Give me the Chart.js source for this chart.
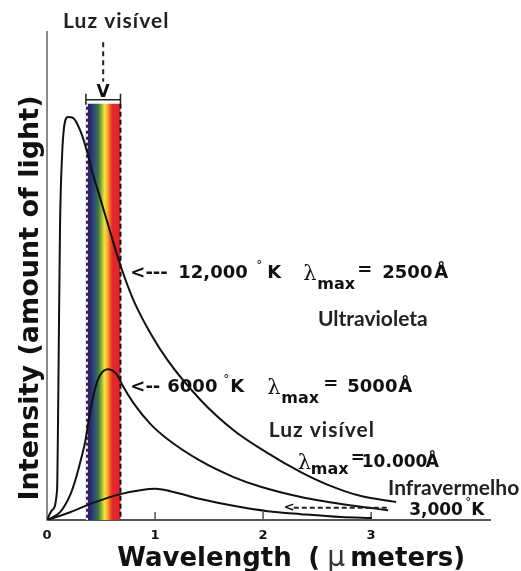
<!DOCTYPE html>
<html>
<head>
<meta charset="utf-8">
<title>Intensity vs wavelength</title>
<script src="https://cdn.jsdelivr.net/npm/chart.js@4.4.1/dist/chart.umd.min.js"></script>
<style>
  html, body { margin: 0; padding: 0; background: #fff; }
  #wrap { width: 521px; height: 571px; }
</style>
</head>
<body>
<div id="wrap"><canvas id="chart" width="521" height="571"></canvas></div>
<script>
// Curvas de emisión: longitud de onda (µm) e intensidad relativa (0-100)
const wl12000 = [0, 0.046, 0.093, 0.102, 0.111, 0.121, 0.139, 0.158, 0.195, 0.241, 0.306, 0.362, 0.427, 0.492, 0.585, 0.678, 0.799, 0.956, 1.114, 1.421, 1.727, 2.043, 2.349, 2.6, 2.906, 3.231];
const int12000 = [0, 2.0, 6.1, 19.9, 40.4, 60.9, 74.4, 80.5, 82.6, 82.4, 79.9, 76.2, 70.7, 66.0, 59.0, 52.3, 45.1, 38.3, 32.8, 24.6, 18.4, 13.7, 9.8, 7.2, 4.9, 3.7];

const wl6000 = [0, 0.121, 0.214, 0.26, 0.306, 0.353, 0.399, 0.446, 0.492, 0.566, 0.65, 0.696, 0.799, 0.956, 1.114, 1.421, 1.727, 1.978, 2.349, 2.6, 2.906, 3.157];
const int6000 = [0, 1.6, 5.1, 8.0, 11.7, 16.0, 22.1, 27.0, 29.7, 30.9, 29.7, 27.7, 24.0, 19.7, 16.6, 12.1, 8.8, 6.8, 4.7, 3.7, 2.7, 2.0];

const wl3000 = [0, 0.214, 0.427, 0.678, 0.864, 1.003, 1.142, 1.421, 1.727, 2.043, 2.349, 2.721, 3.008];
const int3000 = [0, 1.6, 3.5, 5.3, 6.1, 6.4, 5.9, 4.3, 2.9, 1.8, 1.2, 0.6, 0.4];

const xTicks = [0, 1, 2, 3];
const visibleRange = [0.36, 0.68];   // faixa de luz visível (µm)
const bandTop = 85.3;

function toPoints(xs, ys) {
  return xs.map((x, i) => ({ x: x, y: ys[i] }));
}

// Fuentes
const NUM = 'bold 18px "DejaVu Sans"';
const NUM17 = 'bold 17px "DejaVu Sans"';
const DEG = '12px "DejaVu Sans"';
const LAM = '21px "DejaVu Serif"';
const SUB = 'bold 16px "DejaVu Sans"';
const LBL = 'bold 21px Lato';

const bandColors = [
  [0, '#3b1f5f'], [0.12, '#2a2663'], [0.25, '#2d4f7d'], [0.36, '#3e7a3f'],
  [0.46, '#98b640'], [0.53, '#f2e23d'], [0.62, '#f6b42c'], [0.7, '#ef5a2a'],
  [0.78, '#e4252a'], [1, '#e2232b']
];

function drawRuns(ctx, ax, ay, runs) {
  runs.forEach(([text, font, dx, dy]) => {
    ctx.font = font;
    ctx.fillText(text, ax + dx, ay + dy);
  });
}

const decor = {
  id: 'decor',
  beforeDatasetsDraw(chart) {
    const { ctx, scales: { x, y } } = chart;
    const x0 = x.getPixelForValue(visibleRange[0]);
    const x1 = x.getPixelForValue(visibleRange[1]);
    const yb = y.getPixelForValue(0);
    const yt = y.getPixelForValue(bandTop);
    ctx.save();
    const g = ctx.createLinearGradient(x0, 0, x1, 0);
    bandColors.forEach(([o, c]) => g.addColorStop(o, c));
    ctx.fillStyle = g;
    ctx.fillRect(x0, yt, x1 - x0, yb - yt);

    // bordes punteados
    ctx.lineWidth = 2;
    ctx.setLineDash([3, 3]);
    ctx.strokeStyle = '#f4f4f4';
    ctx.beginPath(); ctx.moveTo(x0 + 1, yt); ctx.lineTo(x0 + 1, yb); ctx.stroke();
    ctx.setLineDash([5, 3]);
    ctx.strokeStyle = '#111';
    ctx.beginPath(); ctx.moveTo(x1, yt); ctx.lineTo(x1, yb); ctx.stroke();
    ctx.setLineDash([]);

    // corchete y flecha
    const yBr = y.getPixelForValue(86.1);
    ctx.lineWidth = 1.5;
    ctx.strokeStyle = '#222';
    ctx.beginPath();
    ctx.moveTo(x0, yBr); ctx.lineTo(x1, yBr);
    ctx.moveTo(x0, yBr - 6); ctx.lineTo(x0, yBr + 5);
    ctx.moveTo(x1, yBr - 6); ctx.lineTo(x1, yBr + 5);
    ctx.stroke();
    const xm = (x0 + x1) / 2;
    ctx.lineWidth = 2;
    ctx.setLineDash([5, 4]);
    ctx.beginPath();
    ctx.moveTo(xm, y.getPixelForValue(97.9));
    ctx.lineTo(xm, y.getPixelForValue(89.8));
    ctx.stroke();
    ctx.setLineDash([]);
    ctx.fillStyle = '#111';
    ctx.font = 'bold 17px "DejaVu Sans"';
    ctx.textAlign = 'center';
    ctx.textBaseline = 'alphabetic';
    ctx.fillText('V', xm, y.getPixelForValue(86.6));

    // marcas del eje x
    ctx.strokeStyle = '#555';
    ctx.lineWidth = 1.5;
    ctx.beginPath();
    xTicks.slice(1).forEach(v => {
      const px = x.getPixelForValue(v);
      ctx.moveTo(px, yb); ctx.lineTo(px, yb - 8);
    });
    ctx.stroke();
    ctx.restore();
  },
  afterDraw(chart) {
    const { ctx, chartArea, scales: { x, y } } = chart;
    ctx.save();
    ctx.fillStyle = '#111';
    ctx.textAlign = 'left';
    ctx.textBaseline = 'alphabetic';

    // 12,000 K
    drawRuns(ctx, x.getPixelForValue(0.771), y.getPixelForValue(49.6), [
      ['<---', NUM, 0, 0], ['12,000', NUM, 48, 0], ['°', DEG, 126, -9], ['K', NUM, 137, 0],
      ['λ', LAM, 173, 2], ['max', SUB, 187, 11], ['=', NUM, 227, -3], ['2500', NUM, 252, 0], ['Å', NUM, 304, 0]
    ]);
    // 6000 K
    drawRuns(ctx, x.getPixelForValue(0.771), y.getPixelForValue(26.2), [
      ['<--', NUM, 0, 0], ['6000', NUM, 37, 0], ['°', DEG, 93, -9], ['K', NUM, 100, 0],
      ['λ', LAM, 137, 2], ['max', SUB, 151, 11], ['=', NUM, 193, -3], ['5000', NUM, 217, 0], ['Å', NUM, 268, 0]
    ]);
    // 10.000 Å
    drawRuns(ctx, x.getPixelForValue(2.321), y.getPixelForValue(10.9), [
      ['λ', LAM, 0, 2], ['max', SUB, 13, 7], ['=', NUM17, 53, -4], ['10.000', NUM17, 64, 0], ['Å', NUM17, 128, 0]
    ]);
    // 3,000 K
    drawRuns(ctx, x.getPixelForValue(3.352), y.getPixelForValue(1.0), [
      ['3,000', NUM17, 0, 0], ['°', DEG, 56, -9], ['K', NUM17, 62, 0]
    ]);

    // flecha punteada de 3000 K
    const ax0 = x.getPixelForValue(2.191), ax1 = x.getPixelForValue(3.157);
    const ay = y.getPixelForValue(2.5);
    ctx.font = 'bold 13px "DejaVu Sans"';
    ctx.textBaseline = 'middle';
    ctx.fillText('<', ax0, ay);
    ctx.strokeStyle = '#222';
    ctx.lineWidth = 2;
    ctx.setLineDash([5, 3]);
    ctx.beginPath(); ctx.moveTo(ax0 + 10, ay); ctx.lineTo(ax1, ay); ctx.stroke();
    ctx.setLineDash([]);
    ctx.textBaseline = 'alphabetic';

    // etiquetas de regiones
    ctx.fillStyle = '#222';
    ctx.font = LBL;
    ctx.fillText('Ultravioleta', x.getPixelForValue(2.507), y.getPixelForValue(39.8));
    ctx.fillText('Infravermelho', x.getPixelForValue(3.157), y.getPixelForValue(5.1));
    ctx.letterSpacing = '1px';
    ctx.fillText('Luz visível', x.getPixelForValue(0.149), y.getPixelForValue(100.8));
    ctx.fillText('Luz visível', x.getPixelForValue(2.052), y.getPixelForValue(17.0));
    ctx.letterSpacing = '0px';

    // títulos de ejes
    ctx.fillStyle = '#111';
    const tx = x.getPixelForValue(0.65);
    const ty = chartArea.bottom + 46;
    ctx.font = 'bold 26px "DejaVu Sans"';
    ctx.fillText('Wavelength', tx, ty);
    ctx.fillText('(', tx + 191, ty);
    ctx.font = '28px "DejaVu Sans"';
    ctx.fillStyle = '#333';
    ctx.fillText('μ', tx + 210, ty);
    ctx.fillStyle = '#111';
    ctx.font = 'bold 26px "DejaVu Sans"';
    ctx.fillText('meters)', tx + 233, ty);

    ctx.translate(chartArea.left - 9, y.getPixelForValue(45.5));
    ctx.rotate(-Math.PI / 2);
    ctx.textAlign = 'center';
    ctx.font = 'bold 27px "DejaVu Sans"';
    ctx.fillText('Intensity (amount of light)', 0, 0);
    ctx.restore();
  }
};

const lineStyle = {
  borderColor: '#111',
  borderWidth: 2,
  pointRadius: 0,
  fill: false,
  cubicInterpolationMode: 'monotone'
};

new Chart(document.getElementById('chart'), {
  type: 'line',
  data: {
    datasets: [
      Object.assign({ label: '12,000 K', data: toPoints(wl12000, int12000) }, lineStyle),
      Object.assign({ label: '6000 K', data: toPoints(wl6000, int6000) }, lineStyle),
      Object.assign({ label: '3,000 K', data: toPoints(wl3000, int3000) }, lineStyle)
    ]
  },
  options: {
    responsive: false,
    animation: false,
    devicePixelRatio: 1,
    layout: { padding: { top: 32, right: 31, bottom: 0, left: 0 } },
    plugins: { legend: { display: false }, tooltip: { enabled: false } },
    scales: {
      x: {
        type: 'linear',
        min: 0,
        max: 4.1,
        afterFit(s) { s.height = 51; },
        afterBuildTicks(s) { s.ticks = xTicks.map(v => ({ value: v })); },
        grid: { display: false, drawTicks: false },
        border: { display: true, color: '#555', width: 2 },
        ticks: {
          font: { family: 'DejaVu Sans', size: 13, weight: 'bold' },
          color: '#111',
          padding: 8,
          maxRotation: 0,
          autoSkip: false,
          callback: v => String(v)
        }
      },
      y: {
        min: 0,
        max: 100,
        afterFit(s) { s.width = 47; },
        ticks: { display: false },
        grid: { display: false, drawTicks: false },
        border: { display: true, color: '#8a8a8a', width: 2 }
      }
    }
  },
  plugins: [decor]
});
</script>
</body>
</html>
